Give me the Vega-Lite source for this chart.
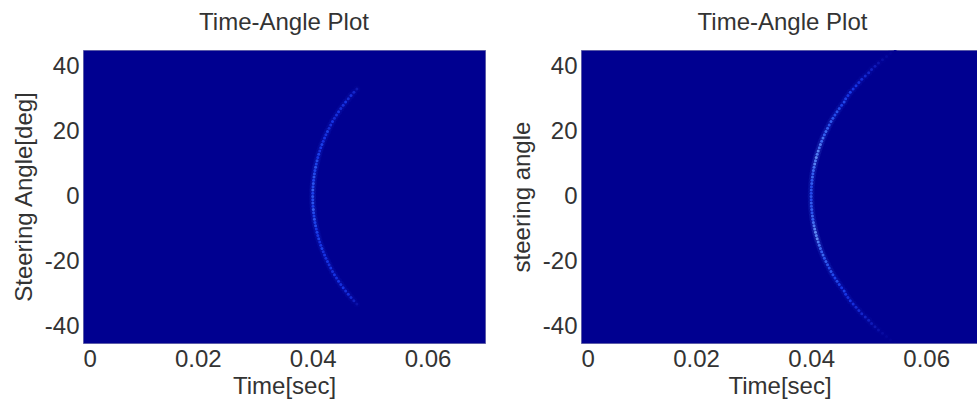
{
  "$schema": "https://vega.github.io/schema/vega-lite/v6.json",
  "padding": {"left": 11, "top": 10, "right": 0, "bottom": 0},
  "spacing": 23,
  "config": {
    "font": "Liberation Sans",
    "view": {"fill": "#000090", "stroke": "#5c5ca8", "strokeWidth": 1},
    "title": {"fontSize": 24, "fontWeight": "normal", "color": "#333333", "offset": 15},
    "axis": {
      "domain": false, "ticks": false, "grid": false,
      "labelFontSize": 24, "labelColor": "#333333", "labelPadding": 4,
      "titleFontSize": 24, "titleFontWeight": "normal", "titleColor": "#333333"
    },
    "axisX": {"titlePadding": 3},
    "axisY": {"titlePadding": 8}
  },
  "datasets": {
    "arcA": [
      {"a": 33, "t": 0.04769, "v": 0.2}, {"a": 32, "t": 0.04717, "v": 0.35}, {"a": 31, "t": 0.04667, "v": 0.45},
      {"a": 30, "t": 0.04619, "v": 0.4}, {"a": 29, "t": 0.04573, "v": 0.5}, {"a": 28, "t": 0.0453, "v": 0.45},
      {"a": 27, "t": 0.04489, "v": 0.4}, {"a": 26, "t": 0.0445, "v": 0.5}, {"a": 25, "t": 0.04414, "v": 0.45},
      {"a": 24, "t": 0.04378, "v": 0.4}, {"a": 23, "t": 0.04345, "v": 0.5}, {"a": 22, "t": 0.04314, "v": 0.45},
      {"a": 21, "t": 0.04285, "v": 0.4}, {"a": 20, "t": 0.04257, "v": 0.55}, {"a": 19, "t": 0.0423, "v": 0.45},
      {"a": 18, "t": 0.04206, "v": 0.5}, {"a": 17, "t": 0.04183, "v": 0.45}, {"a": 16, "t": 0.04161, "v": 0.55},
      {"a": 15, "t": 0.04141, "v": 0.5}, {"a": 14, "t": 0.04122, "v": 0.45}, {"a": 13, "t": 0.04105, "v": 0.55},
      {"a": 12, "t": 0.04089, "v": 0.5}, {"a": 11, "t": 0.04075, "v": 0.6}, {"a": 10, "t": 0.04062, "v": 0.55},
      {"a": 9, "t": 0.0405, "v": 0.65}, {"a": 8, "t": 0.04039, "v": 0.55}, {"a": 7, "t": 0.0403, "v": 0.6},
      {"a": 6, "t": 0.04022, "v": 0.65}, {"a": 5, "t": 0.04015, "v": 0.55}, {"a": 4, "t": 0.0401, "v": 0.65},
      {"a": 3, "t": 0.04005, "v": 0.6}, {"a": 2, "t": 0.04002, "v": 0.7}, {"a": 1, "t": 0.04001, "v": 0.55},
      {"a": 0, "t": 0.04, "v": 0.65}, {"a": -1, "t": 0.04001, "v": 0.6}, {"a": -2, "t": 0.04002, "v": 0.65},
      {"a": -3, "t": 0.04005, "v": 0.55}, {"a": -4, "t": 0.0401, "v": 0.7}, {"a": -5, "t": 0.04015, "v": 0.6},
      {"a": -6, "t": 0.04022, "v": 0.55}, {"a": -7, "t": 0.0403, "v": 0.65}, {"a": -8, "t": 0.04039, "v": 0.55},
      {"a": -9, "t": 0.0405, "v": 0.6}, {"a": -10, "t": 0.04062, "v": 0.5}, {"a": -11, "t": 0.04075, "v": 0.55},
      {"a": -12, "t": 0.04089, "v": 0.5}, {"a": -13, "t": 0.04105, "v": 0.55}, {"a": -14, "t": 0.04122, "v": 0.45},
      {"a": -15, "t": 0.04141, "v": 0.5}, {"a": -16, "t": 0.04161, "v": 0.55}, {"a": -17, "t": 0.04183, "v": 0.45},
      {"a": -18, "t": 0.04206, "v": 0.5}, {"a": -19, "t": 0.0423, "v": 0.45}, {"a": -20, "t": 0.04257, "v": 0.5},
      {"a": -21, "t": 0.04285, "v": 0.45}, {"a": -22, "t": 0.04314, "v": 0.5}, {"a": -23, "t": 0.04345, "v": 0.45},
      {"a": -24, "t": 0.04378, "v": 0.5}, {"a": -25, "t": 0.04414, "v": 0.45}, {"a": -26, "t": 0.0445, "v": 0.5},
      {"a": -27, "t": 0.04489, "v": 0.45}, {"a": -28, "t": 0.0453, "v": 0.5}, {"a": -29, "t": 0.04573, "v": 0.45},
      {"a": -30, "t": 0.04619, "v": 0.45}, {"a": -31, "t": 0.04667, "v": 0.4}, {"a": -32, "t": 0.04717, "v": 0.3},
      {"a": -33, "t": 0.04769, "v": 0.15}
    ],
    "arcB": [
      {"a": 45, "t": 0.0546, "v": 0.02}, {"a": 44, "t": 0.0538, "v": 0.04}, {"a": 43, "t": 0.0531, "v": 0.08},
      {"a": 42, "t": 0.0524, "v": 0.12}, {"a": 41, "t": 0.0517, "v": 0.18}, {"a": 40, "t": 0.0511, "v": 0.25},
      {"a": 39, "t": 0.0505, "v": 0.3}, {"a": 38, "t": 0.05, "v": 0.35}, {"a": 37, "t": 0.0494, "v": 0.38},
      {"a": 36, "t": 0.0488, "v": 0.42}, {"a": 35, "t": 0.0483, "v": 0.45}, {"a": 34, "t": 0.0478, "v": 0.5},
      {"a": 33, "t": 0.0473, "v": 0.5}, {"a": 32, "t": 0.0468, "v": 0.55}, {"a": 31, "t": 0.0464, "v": 0.5},
      {"a": 30, "t": 0.046, "v": 0.55}, {"a": 29, "t": 0.04573, "v": 0.6}, {"a": 28, "t": 0.0453, "v": 0.55},
      {"a": 27, "t": 0.04489, "v": 0.6}, {"a": 26, "t": 0.0445, "v": 0.65}, {"a": 25, "t": 0.04414, "v": 0.6},
      {"a": 24, "t": 0.04378, "v": 0.65}, {"a": 23, "t": 0.04345, "v": 0.7}, {"a": 22, "t": 0.04314, "v": 0.65},
      {"a": 21, "t": 0.04285, "v": 0.7}, {"a": 20, "t": 0.04257, "v": 0.75}, {"a": 19, "t": 0.0423, "v": 0.7},
      {"a": 18, "t": 0.04206, "v": 0.8}, {"a": 17, "t": 0.04183, "v": 0.75}, {"a": 16, "t": 0.04161, "v": 0.85},
      {"a": 15, "t": 0.04141, "v": 0.8}, {"a": 14, "t": 0.04122, "v": 0.9}, {"a": 13, "t": 0.04105, "v": 0.85},
      {"a": 12, "t": 0.04089, "v": 0.95}, {"a": 11, "t": 0.04075, "v": 0.85}, {"a": 10, "t": 0.04062, "v": 0.9},
      {"a": 9, "t": 0.0405, "v": 0.8}, {"a": 8, "t": 0.04039, "v": 0.75}, {"a": 7, "t": 0.0403, "v": 0.7},
      {"a": 6, "t": 0.04022, "v": 0.75}, {"a": 5, "t": 0.04015, "v": 0.65}, {"a": 4, "t": 0.0401, "v": 0.7},
      {"a": 3, "t": 0.04005, "v": 0.6}, {"a": 2, "t": 0.04002, "v": 0.65}, {"a": 1, "t": 0.04001, "v": 0.6},
      {"a": 0, "t": 0.04, "v": 0.65}, {"a": -1, "t": 0.04001, "v": 0.6}, {"a": -2, "t": 0.04002, "v": 0.7},
      {"a": -3, "t": 0.04005, "v": 0.65}, {"a": -4, "t": 0.0401, "v": 0.7}, {"a": -5, "t": 0.04015, "v": 0.65},
      {"a": -6, "t": 0.04022, "v": 0.75}, {"a": -7, "t": 0.0403, "v": 0.7}, {"a": -8, "t": 0.04039, "v": 0.8},
      {"a": -9, "t": 0.0405, "v": 0.85}, {"a": -10, "t": 0.04062, "v": 0.9}, {"a": -11, "t": 0.04075, "v": 0.95},
      {"a": -12, "t": 0.04089, "v": 0.9}, {"a": -13, "t": 0.04105, "v": 0.95}, {"a": -14, "t": 0.04122, "v": 0.85},
      {"a": -15, "t": 0.04141, "v": 0.8}, {"a": -16, "t": 0.04161, "v": 0.75}, {"a": -17, "t": 0.04183, "v": 0.7},
      {"a": -18, "t": 0.04206, "v": 0.75}, {"a": -19, "t": 0.0423, "v": 0.65}, {"a": -20, "t": 0.04257, "v": 0.7},
      {"a": -21, "t": 0.04285, "v": 0.65}, {"a": -22, "t": 0.04314, "v": 0.6}, {"a": -23, "t": 0.04345, "v": 0.65},
      {"a": -24, "t": 0.04378, "v": 0.6}, {"a": -25, "t": 0.04414, "v": 0.55}, {"a": -26, "t": 0.0445, "v": 0.6},
      {"a": -27, "t": 0.04489, "v": 0.55}, {"a": -28, "t": 0.0453, "v": 0.5}, {"a": -29, "t": 0.04573, "v": 0.55},
      {"a": -30, "t": 0.046, "v": 0.5}, {"a": -31, "t": 0.0464, "v": 0.45}, {"a": -32, "t": 0.0468, "v": 0.5},
      {"a": -33, "t": 0.0473, "v": 0.45}, {"a": -34, "t": 0.0478, "v": 0.4}, {"a": -35, "t": 0.0483, "v": 0.4},
      {"a": -36, "t": 0.0488, "v": 0.35}, {"a": -37, "t": 0.0494, "v": 0.32}, {"a": -38, "t": 0.05, "v": 0.28},
      {"a": -39, "t": 0.0505, "v": 0.24}, {"a": -40, "t": 0.0511, "v": 0.2}, {"a": -41, "t": 0.0517, "v": 0.15},
      {"a": -42, "t": 0.0524, "v": 0.1}, {"a": -43, "t": 0.0531, "v": 0.06}, {"a": -44, "t": 0.0538, "v": 0.03},
      {"a": -45, "t": 0.0546, "v": 0.01}
    ]
  },
  "hconcat": [
    {
      "title": "Time-Angle Plot",
      "width": 402,
      "height": 293,
      "data": {"name": "arcA"},
      "encoding": {
        "x": {
          "field": "t", "type": "quantitative", "title": "Time[sec]",
          "scale": {"domain": [0, 0.07], "nice": false, "zero": false},
          "axis": {"values": [0, 0.02, 0.04, 0.06], "format": ".2~f"}
        },
        "y": {
          "field": "a", "type": "quantitative", "title": "Steering Angle[deg]",
          "scale": {"domain": [-45, 45], "nice": false},
          "axis": {"values": [-40, -20, 0, 20, 40], "labelExpr": "'' + datum.value"}
        },
        "color": {
          "field": "v", "type": "quantitative", "legend": null,
          "scale": {"domain": [0, 1], "range": ["#000090", "#1a3cf0", "#7aa6ff"]}
        }
      },
      "layer": [
        {"mark": {"type": "circle", "size": 50, "opacity": 0.1, "clip": true}},
        {"mark": {"type": "circle", "size": 9, "opacity": 0.85, "clip": true}}
      ]
    },
    {
      "title": {"text": "Time-Angle Plot", "dx": 3},
      "width": 397,
      "height": 293,
      "data": {"name": "arcB"},
      "encoding": {
        "x": {
          "field": "t", "type": "quantitative", "title": "Time[sec]",
          "scale": {"domain": [0, 0.069], "nice": false, "zero": false},
          "axis": {"values": [0, 0.02, 0.04, 0.06], "format": ".2~f"}
        },
        "y": {
          "field": "a", "type": "quantitative", "title": "steering angle",
          "scale": {"domain": [-45, 45], "nice": false},
          "axis": {"values": [-40, -20, 0, 20, 40], "labelExpr": "'' + datum.value"}
        },
        "color": {
          "field": "v", "type": "quantitative", "legend": null,
          "scale": {"domain": [0, 1], "range": ["#000090", "#1a3cf0", "#7aa6ff"]}
        }
      },
      "layer": [
        {"mark": {"type": "circle", "size": 50, "opacity": 0.1, "clip": true}},
        {"mark": {"type": "circle", "size": 9, "opacity": 0.85, "clip": true}}
      ]
    }
  ]
}
